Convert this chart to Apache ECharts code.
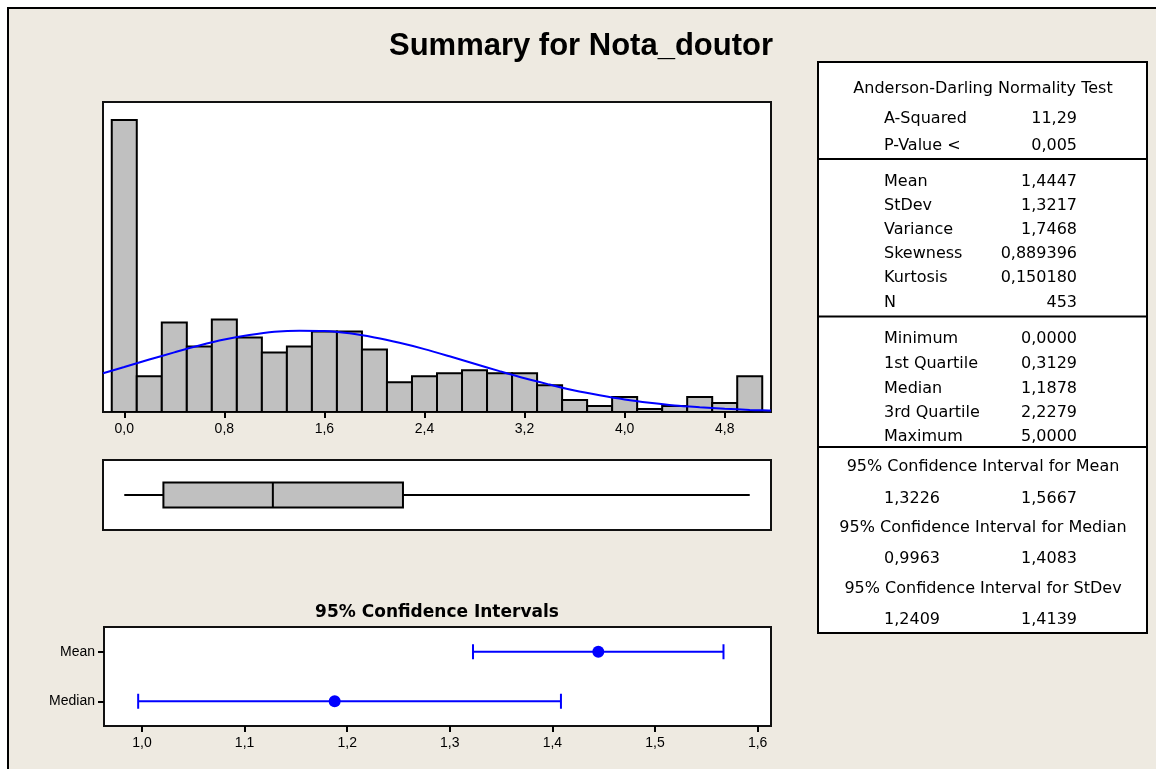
<!DOCTYPE html>
<html><head><meta charset="utf-8">
<script src="https://cdn.jsdelivr.net/npm/echarts@6/dist/echarts.min.js"></script>
<style>
html,body{margin:0;padding:0;background:#fff;overflow:hidden;width:1156px;height:769px;}
#bg{position:absolute;left:7px;top:7px;width:1149px;height:762px;background:#EEEAE1;border-left:2px solid #000;border-top:2px solid #000;box-sizing:border-box;}
#chart{position:absolute;left:0;top:0;width:1156px;height:769px;}
</style></head><body>
<div id="bg"></div><div id="chart"></div>
<script>
// ---------- data ----------
const titleText = 'Summary for Nota_doutor';
const binWidth = 0.2;
const binCenters = [0.0, 0.2, 0.4, 0.6, 0.8, 1.0, 1.2, 1.4, 1.6, 1.8, 2.0, 2.2, 2.4, 2.6, 2.8, 3.0, 3.2, 3.4, 3.6, 3.8, 4.0, 4.2, 4.4, 4.6, 4.8, 5.0];
const binCounts  = [98, 12, 30, 22, 31, 25, 20, 22, 27, 27, 21, 10, 12, 13, 14, 13, 13, 9, 4, 2, 5, 1, 2, 5, 3, 12];
const curveX = [-0.17, 0.0, 0.2, 0.4, 0.6, 0.8, 1.0, 1.2, 1.4, 1.6, 1.8, 2.0, 2.2, 2.4, 2.6, 2.8, 3.0, 3.2, 3.4, 3.6, 3.8, 4.0, 4.2, 4.4, 4.6, 4.8, 5.0, 5.17];
const curveY = [13.0, 15.1, 17.6, 20.0, 22.3, 24.3, 25.8, 26.9, 27.3, 27.2, 26.4, 25.0, 23.2, 21.1, 18.7, 16.2, 13.7, 11.3, 9.2, 7.2, 5.6, 4.2, 3.1, 2.2, 1.6, 1.1, 0.7, 0.5];
const histTicks = [0.0, 0.8, 1.6, 2.4, 3.2, 4.0, 4.8];
const boxStats = [0.0, 0.3129, 1.1878, 2.2279, 5.0];

const ciTitle = '95% Confidence Intervals';
const ciCategories = ['Median', 'Mean'];
const ciCenters = [1.1878, 1.4447];
const ciLower = [0.9963, 1.3226];
const ciUpper = [1.4083, 1.5667];
const ciTicks = [1.0, 1.1, 1.2, 1.3, 1.4, 1.5, 1.6];

const adHeader = 'Anderson-Darling Normality Test';
const adLabels = ['A-Squared', 'P-Value <'];
const adValues = ['11,29', '0,005'];
const momLabels = ['Mean', 'StDev', 'Variance', 'Skewness', 'Kurtosis', 'N'];
const momValues = ['1,4447', '1,3217', '1,7468', '0,889396', '0,150180', '453'];
const quantLabels = ['Minimum', '1st Quartile', 'Median', '3rd Quartile', 'Maximum'];
const quantValues = ['0,0000', '0,3129', '1,1878', '2,2279', '5,0000'];
const ciHeaders = ['95% Confidence Interval for Mean', '95% Confidence Interval for Median', '95% Confidence Interval for StDev'];
const ciLowText = ['1,3226', '0,9963', '1,2409'];
const ciHighText = ['1,5667', '1,4083', '1,4139'];

// ---------- layout ----------
const FONT_T = '"DejaVu Sans", "Liberation Sans", sans-serif';
const FONT_A = '"Liberation Sans", Arial, sans-serif';
const fmt = v => (Math.round(v * 10) / 10).toFixed(1).replace('.', ',');

const tL = 818, tR = 1147, tTop = 62, tBot = 633;
const labelX = 884, valueX = 1077, midX = 983;
const adY = [119.3, 146];
const momY = [181.7, 205.7, 229.5, 254, 278.3, 303.3];
const quantY = [339.3, 363.5, 388.5, 413, 437];
const ciHeadY = [466.7, 528.3, 589.3];
const ciValY = [499, 558.5, 620];
const dividers = [159, 316.5, 447];

function txt(text, x, y, align, font) {
  return { type: 'text', silent: true, z: 10,
    style: { text, x, y, fill: '#000', font: font || ('16px ' + FONT_T),
      textAlign: align, textVerticalAlign: 'middle', align: align, verticalAlign: 'middle' } };
}
const tableEls = [];
tableEls.push({ type: 'rect', z: 5, shape: { x: tL, y: tTop, width: tR - tL, height: tBot - tTop },
  style: { fill: '#fff', stroke: '#000', lineWidth: 2 } });
dividers.forEach(y => tableEls.push({ type: 'line', z: 6, shape: { x1: tL, y1: y, x2: tR, y2: y },
  style: { stroke: '#000', lineWidth: 2 } }));
tableEls.push(txt(adHeader, midX, 89.3, 'center'));
adLabels.forEach((l, i) => { tableEls.push(txt(l, labelX, adY[i], 'left')); tableEls.push(txt(adValues[i], valueX, adY[i], 'right')); });
momLabels.forEach((l, i) => { tableEls.push(txt(l, labelX, momY[i], 'left')); tableEls.push(txt(momValues[i], valueX, momY[i], 'right')); });
quantLabels.forEach((l, i) => { tableEls.push(txt(l, labelX, quantY[i], 'left')); tableEls.push(txt(quantValues[i], valueX, quantY[i], 'right')); });
ciHeaders.forEach((h, i) => {
  tableEls.push(txt(h, midX, ciHeadY[i], 'center'));
  tableEls.push(txt(ciLowText[i], labelX, ciValY[i], 'left'));
  tableEls.push(txt(ciHighText[i], valueX, ciValY[i], 'right'));
});

const gridStyle = { show: true, backgroundColor: '#fff', borderColor: '#111', borderWidth: 2 };
const hiddenAxis = { axisLine: { show: false }, axisTick: { show: false }, axisLabel: { show: false }, splitLine: { show: false } };

const chart = echarts.init(document.getElementById('chart'), null, { renderer: 'canvas' });
chart.setOption({
  animation: false,
  backgroundColor: 'transparent',
  title: [
    { text: titleText, left: 576, top: 26, textAlign: 'center',
      textStyle: { fontFamily: FONT_A, fontWeight: 'bold', fontSize: 31, color: '#000' } },
    { text: ciTitle, left: 432, top: 599, textAlign: 'center',
      textStyle: { fontFamily: FONT_T, fontWeight: 'bold', fontSize: 17, color: '#000' } }
  ],
  grid: [
    Object.assign({ left: 103, top: 102, width: 668, height: 310 }, gridStyle),
    Object.assign({ left: 103, top: 460, width: 668, height: 70 }, gridStyle),
    Object.assign({ left: 104, top: 627, width: 667, height: 99 }, gridStyle)
  ],
  xAxis: [
    { type: 'value', gridIndex: 0, min: -0.17, max: 5.17,
      axisLine: { show: false, onZero: false }, splitLine: { show: false },
      axisTick: { show: true, customValues: histTicks, length: 6, lineStyle: { color: '#000', width: 2 } },
      axisLabel: { show: true, customValues: histTicks, formatter: fmt, margin: 10, fontSize: 14, fontFamily: FONT_A, color: '#000' } },
    Object.assign({ type: 'value', gridIndex: 1, min: -0.17, max: 5.17 }, hiddenAxis),
    { type: 'value', gridIndex: 2, min: 0.963, max: 1.613,
      axisLine: { show: false, onZero: false }, splitLine: { show: false },
      axisTick: { show: true, customValues: ciTicks, length: 6, lineStyle: { color: '#000', width: 2 } },
      axisLabel: { show: true, customValues: ciTicks, formatter: fmt, margin: 10, fontSize: 14, fontFamily: FONT_A, color: '#000' } }
  ],
  yAxis: [
    Object.assign({ type: 'value', gridIndex: 0, min: 0, max: 104 }, hiddenAxis),
    Object.assign({ type: 'value', gridIndex: 1, min: 0, max: 1 }, hiddenAxis),
    { type: 'category', gridIndex: 2, data: ciCategories,
      axisLine: { show: false, onZero: false }, splitLine: { show: false },
      axisTick: { show: true, alignWithLabel: true, length: 6, lineStyle: { color: '#000', width: 2 } },
      axisLabel: { margin: 9, fontSize: 14, fontFamily: FONT_A, color: '#000' } }
  ],
  series: [
    { type: 'custom', xAxisIndex: 0, yAxisIndex: 0, clip: true, z: 2,
      data: binCenters.map((c, i) => [c, binCounts[i]]),
      encode: { x: 0, y: 1 },
      renderItem: (params, api) => {
        const c = api.value(0), n = api.value(1);
        const tl = api.coord([c - binWidth / 2, n]);
        const br = api.coord([c + binWidth / 2, 0]);
        return { type: 'rect', shape: { x: tl[0], y: tl[1], width: br[0] - tl[0], height: br[1] - tl[1] },
          style: { fill: '#C0C0C0', stroke: '#000', lineWidth: 2 } };
      } },
    { type: 'line', xAxisIndex: 0, yAxisIndex: 0, z: 3, clip: true,
      data: curveX.map((x, i) => [x, curveY[i]]),
      showSymbol: false, symbol: 'none', smooth: 0.3,
      lineStyle: { color: '#0000FF', width: 2 } },
    { type: 'custom', xAxisIndex: 1, yAxisIndex: 1, z: 2,
      data: [boxStats],
      encode: { x: [0, 1, 2, 3, 4] },
      renderItem: (params, api) => {
        const y = api.coord([0, 0.5])[1];
        const px = [0, 1, 2, 3, 4].map(k => api.coord([api.value(k), 0.5])[0]);
        const h = 12.5;
        const ls = { stroke: '#000', lineWidth: 2 };
        return { type: 'group', children: [
          { type: 'line', shape: { x1: px[0], y1: y, x2: px[1], y2: y }, style: ls },
          { type: 'line', shape: { x1: px[3], y1: y, x2: px[4], y2: y }, style: ls },
          { type: 'rect', shape: { x: px[1], y: y - h, width: px[3] - px[1], height: 2 * h },
            style: { fill: '#C0C0C0', stroke: '#000', lineWidth: 2 } },
          { type: 'line', shape: { x1: px[2], y1: y - h, x2: px[2], y2: y + h }, style: ls }
        ] };
      } },
    { type: 'custom', xAxisIndex: 2, yAxisIndex: 2, z: 2,
      data: ciCategories.map((c, i) => [ciLower[i], ciUpper[i], i]),
      encode: { x: [0, 1], y: 2 },
      renderItem: (params, api) => {
        const lo = api.coord([api.value(0), api.value(2)]);
        const hi = api.coord([api.value(1), api.value(2)]);
        const cap = 7.5;
        const ls = { stroke: '#0000FF', lineWidth: 2 };
        return { type: 'group', children: [
          { type: 'line', shape: { x1: lo[0], y1: lo[1], x2: hi[0], y2: hi[1] }, style: ls },
          { type: 'line', shape: { x1: lo[0], y1: lo[1] - cap, x2: lo[0], y2: lo[1] + cap }, style: ls },
          { type: 'line', shape: { x1: hi[0], y1: hi[1] - cap, x2: hi[0], y2: hi[1] + cap }, style: ls }
        ] };
      } },
    { type: 'scatter', xAxisIndex: 2, yAxisIndex: 2, z: 4,
      data: ciCenters.map((v, i) => [v, i]),
      symbol: 'circle', symbolSize: 12, itemStyle: { color: '#0000FF', opacity: 1 } }
  ],
  graphic: { elements: tableEls }
});
</script>
</body></html>
